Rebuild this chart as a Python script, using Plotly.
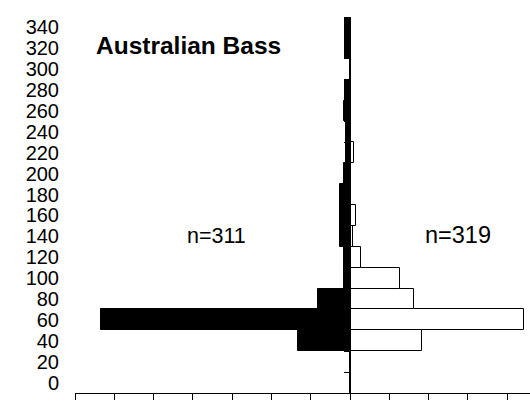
import plotly.graph_objects as go

# Length classes (mm), one band per class
length_classes = [0, 20, 40, 60, 80, 100, 120, 140, 160, 180,
                  200, 220, 240, 260, 280, 300, 320, 340]
tick_labels = [str(v) for v in length_classes]

# Percentage frequency per length class
left_pct = [0, 0, 13.3, 63.5, 8.2, 1.6, 1.6, 2.6, 2.6, 2.6,
            1.6, 1.0, 1.0, 1.6, 1.2, 0, 1.4, 1.4]
right_pct = [0, 0, 18.2, 44.2, 16.2, 12.6, 2.9, 0.8, 1.4, 0,
             0, 1.0, 0, 0, 0, 0, 0, 0]

n_left = 311
n_right = 319
title_text = "Australian Bass"

band = 20
x_min, x_max = -70, 45.8
y_min, y_max = length_classes[0] - band / 2, length_classes[-1] + band / 2
x_ticks = list(range(-70, 41, 10))
band_edges = [c - band / 2 for c in length_classes] + [y_max]

font_family = "Liberation Sans, Arial, sans-serif"

fig = go.Figure()
fig.add_trace(go.Bar(
    y=length_classes, x=[-v for v in left_pct], orientation="h",
    width=band, marker=dict(color="black", line=dict(color="black", width=1)),
    yaxis="y", showlegend=False, hoverinfo="skip",
))
fig.add_trace(go.Bar(
    y=length_classes, x=right_pct, orientation="h",
    width=band, marker=dict(color="white", line=dict(color="black", width=1)),
    yaxis="y2", showlegend=False, hoverinfo="skip",
))

# the central (value) axis sits at x = 0
center_pos = (0 - x_min) / (x_max - x_min)

fig.update_layout(
    width=530, height=415,
    margin=dict(l=75, r=0, t=17, b=22, pad=0),
    paper_bgcolor="white", plot_bgcolor="white",
    barmode="overlay", bargap=0,
    font=dict(family=font_family, color="black"),
    xaxis=dict(
        range=[x_min, x_max], tickvals=x_ticks, showticklabels=False,
        ticks="outside", ticklen=6, tickcolor="black", tickwidth=1,
        showline=True, linecolor="black", linewidth=1,
        showgrid=False, zeroline=False,
    ),
    yaxis=dict(
        range=[y_min, y_max], tickvals=length_classes, ticktext=tick_labels,
        ticks="", showline=False, showgrid=False, zeroline=False,
        tickfont=dict(size=20, family=font_family, color="black"),
        ticklabelstandoff=15,
    ),
    yaxis2=dict(
        range=[y_min, y_max], overlaying="y", anchor="free",
        position=center_pos, side="left",
        tickvals=band_edges, showticklabels=False,
        ticks="outside", ticklen=6, tickcolor="black", tickwidth=1,
        showline=True, linecolor="black", linewidth=1,
        showgrid=False, zeroline=False,
    ),
    annotations=[
        dict(text="<b>" + title_text + "</b>", x=-41, y=323, xref="x", yref="y",
             showarrow=False, font=dict(size=24.5, family=font_family, color="black")),
        dict(text=f"n={n_left}", x=-34, y=140, xref="x", yref="y",
             showarrow=False, font=dict(size=21.5, family=font_family, color="black")),
        dict(text=f"n={n_right}", x=27.4, y=141, xref="x", yref="y",
             showarrow=False, font=dict(size=23.5, family=font_family, color="black")),
    ],
)

fig.write_html("out.html")
